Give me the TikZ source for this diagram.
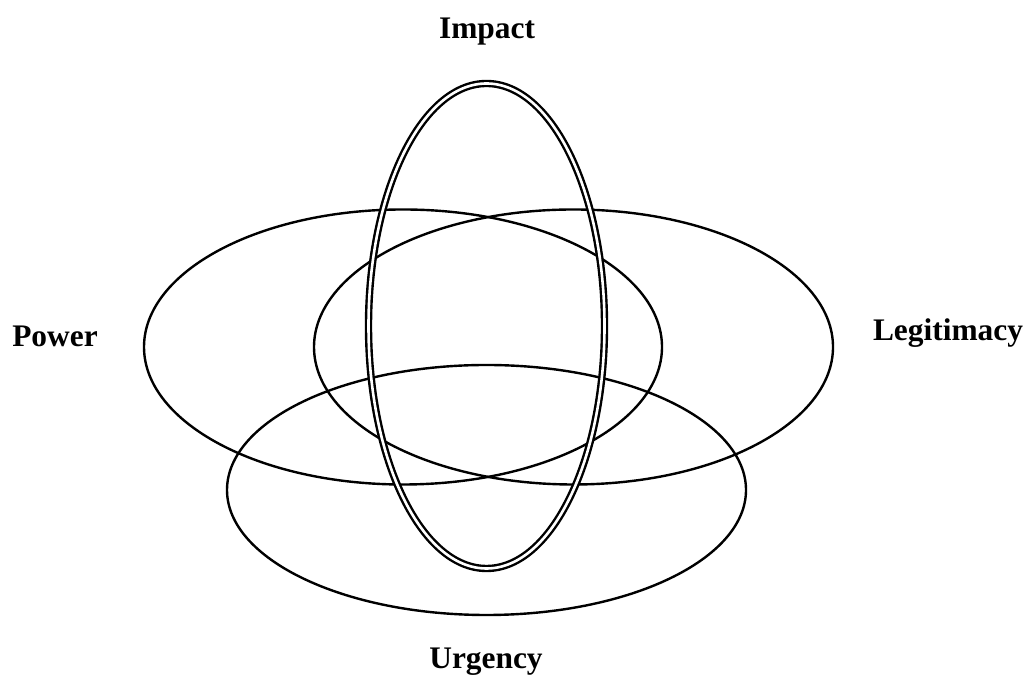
\documentclass[tikz,border=0pt]{standalone}
\usepackage{fontspec}
\setmainfont{Liberation Serif}
\usetikzlibrary{shapes.geometric,positioning}
\tikzset{
    setring/.style={ellipse,draw,line width=1.2pt,inner sep=0pt,outer sep=0pt},
    impactring/.style={setring,double,double distance=1.3pt},
    setlabel/.style={anchor=base,font=\bfseries\fontsize{15.7}{19}\selectfont}
}
\begin{document}
\begin{tikzpicture}[x=0.5pt,y=0.5pt]
            \useasboundingbox (0,0) rectangle (1031,678);
            \node[setring,minimum width=259pt,minimum height=137.5pt] (power) at (403,331) {};
            \node[setring,minimum width=259.5pt,minimum height=137.5pt] (legit) at (573.5,331) {};
            \node[setring,minimum width=259.5pt,minimum height=125pt] (urgency) at (486.5,188) {};
            \node[impactring,minimum width=118pt,minimum height=242.5pt] (impact) at (486.5,352) {};
            \node[setlabel] (powerlabel) at (55,331) {Power};
            \node[setlabel] (legitlabel) at (948,337) {Legitimacy};
            \node[setlabel] (impactlabel) at (487,639) {Impact};
            \node[setlabel] (urgencylabel) at (486,9) {Urgency};
        \end{tikzpicture}
\end{document}
